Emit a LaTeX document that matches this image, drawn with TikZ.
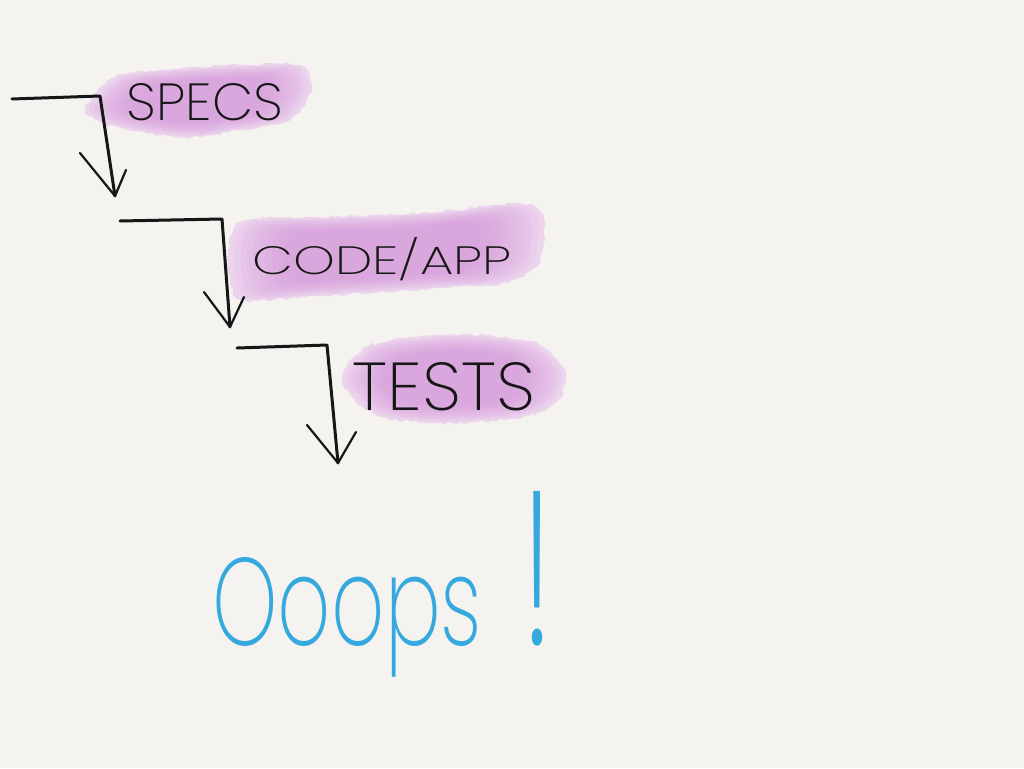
\documentclass[tikz,border=0pt]{standalone}
\usepackage{fontspec}
\usepackage{graphicx}
\IfFontExistsTF{Poppins ExtraLight}{\newfontfamily\hand{Poppins ExtraLight}}{%
  \IfFontExistsTF{Poppins Light}{\newfontfamily\hand{Poppins Light}}{\newfontfamily\hand{Poppins}}}
\usetikzlibrary{decorations.pathmorphing}
\definecolor{paper}{RGB}{244,243,240}
\definecolor{ink}{RGB}{22,22,22}
\definecolor{oops}{RGB}{53,169,222}
\definecolor{blobout}{RGB}{236,212,237}
\definecolor{blobin}{RGB}{212,150,218}
\begin{document}
\begin{tikzpicture}[x=1pt,y=-1pt,line cap=round,line join=round,
  conn/.style={draw=ink,line width=3pt},
  barb/.style={draw=ink,line width=2.2pt},
  blob/.style={fill=blobout,decorate,decoration={random steps,segment length=4pt,amplitude=1.4pt}},
  core/.style={fill=blobin,opacity=0.11},
  lbl/.style={text=ink,font=\hand,inner sep=0pt},
  oopsstyle/.style={text=oops,font=\hand,inner sep=0pt}]
\fill[paper] (0,0) rectangle (1024,768);
\useasboundingbox (0,0) rectangle (1024,768);

% ---------- highlight blobs ----------
\begin{scope}[shift={(200,100)}]
  \def\blobA{(-115,7) (-85,-23) (-40,-30) (0,-33) (50,-35) (100,-35) (112,-12) (90,20) (40,30) (0,37) (-40,35) (-80,28) (-105,20)}
  \path[blob] plot[smooth cycle] coordinates {\blobA};
  \foreach \s in {0.96,0.92,0.88,0.84,0.8,0.76,0.72,0.68,0.64,0.6}{\fill[core,scale=\s] plot[smooth cycle] coordinates {\blobA};}
\end{scope}
\begin{scope}[shift={(385,252)}]
  \def\blobB{(-157,10) (-145,-30) (-70,-35) (0,-37) (70,-42) (135,-49) (158,-37) (155,8) (125,30) (60,36) (0,40) (-80,45) (-145,47)}
  \path[blob] plot[smooth cycle] coordinates {\blobB};
  \foreach \s in {0.96,0.92,0.88,0.84,0.8,0.76,0.72,0.68,0.64,0.6}{\fill[core,scale=\s] plot[smooth cycle] coordinates {\blobB};}
\end{scope}
\begin{scope}[shift={(453,378)}]
  \def\blobC{(-111,3) (-85,-32) (-16,-43) (40,-42) (87,-33) (112,-8) (105,22) (75,38) (0,45) (-75,38)}
  \path[blob] plot[smooth cycle] coordinates {\blobC};
  \foreach \s in {0.96,0.92,0.88,0.84,0.8,0.76,0.72,0.68,0.64,0.6}{\fill[core,scale=\s] plot[smooth cycle] coordinates {\blobC};}
\end{scope}

% ---------- labels ----------
\node[lbl,anchor=base] (specs) at (205,120) {\resizebox{156pt}{37pt}{SPECS}};
\node[lbl,anchor=base] (code) at (382,274) {\resizebox{259pt}{37pt}{CODE/APP}};
\node[lbl,anchor=base] (tests) at (444,410) {\resizebox{182pt}{48pt}{TESTS}};
\node[oopsstyle,anchor=base west] (oops) at (212,645)
  {\resizebox{270pt}{88pt}{Ooops}\hspace{38pt}\resizebox{34pt}{154pt}{!}};

% ---------- step connectors ----------
\coordinate (s1) at (12,99);  \coordinate (c1) at (100,96);  \coordinate (t1) at (115,196);
\coordinate (l1) at (80,153); \coordinate (r1) at (126,170);
\coordinate (s2) at (120,221); \coordinate (c2) at (222,219); \coordinate (t2) at (230,327);
\coordinate (l2) at (204,292); \coordinate (r2) at (244,297);
\coordinate (s3) at (237,348); \coordinate (c3) at (327,345); \coordinate (t3) at (338,463);
\coordinate (l3) at (307,425); \coordinate (r3) at (356,432);

\draw[conn] (s1) -- (c1) -- (t1);
\draw[barb] (l1) -- (t1) -- (r1);
\draw[conn] (s2) -- (c2) -- (t2);
\draw[barb] (l2) -- (t2) -- (r2);
\draw[conn] (s3) -- (c3) -- (t3);
\draw[barb] (l3) -- (t3) -- (r3);
\end{tikzpicture}
\end{document}
